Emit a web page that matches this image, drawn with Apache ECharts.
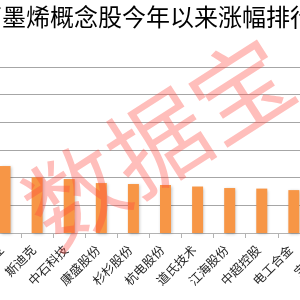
<!DOCTYPE html>
<html>
<head>
<meta charset="utf-8">
<script src="https://cdn.jsdelivr.net/npm/echarts@6/dist/echarts.min.js"></script>
<style>html,body{margin:0;padding:0;background:#fff;}#c{width:300px;height:300px;}</style>
</head>
<body>
<div id="c"></div>
<script>
var titleText = '石墨烯概念股今年以来涨幅排行';
var categories = ['厦门钨业', '斯迪克', '中石科技', '康盛股份', '杉杉股份', '杭电股份', '道氏技术', '江海股份', '中超控股', '电工合金', '宝泰隆'];
var gains = [48.4, 40.3, 39.0, 36.1, 35.4, 34.7, 33.6, 32.5, 32.1, 31.0, 30.5];
var yTicks = [0, 20, 40, 60, 80, 100, 120];
var watermark = '数据宝';

var chart = echarts.init(document.getElementById('c'), null, {renderer: 'canvas'});
chart.setOption({
  animation: false,
  backgroundColor: '#ffffff',
  grid: {left: -11, right: -42, top: 67, bottom: 67, containLabel: false, outerBoundsMode: 'none'},
  xAxis: {
    type: 'category',
    data: categories,
    axisLine: {show: true, lineStyle: {color: '#b3b3b3', width: 1}},
    axisTick: {show: true, length: 5, lineStyle: {color: '#b3b3b3'}},
    axisLabel: {interval: 0, rotate: 45, margin: 11, padding: [0, 5, 0, 0], fontSize: 12.5, color: '#262626', fontFamily: 'Noto Sans CJK SC'}
  },
  yAxis: {
    type: 'value',
    min: yTicks[0],
    max: yTicks[yTicks.length - 1],
    interval: yTicks[1] - yTicks[0],
    axisLabel: {show: false},
    axisLine: {show: false},
    axisTick: {show: false},
    splitLine: {lineStyle: {color: '#a6a6a6', width: 1}}
  },
  series: [{
    type: 'bar',
    data: gains,
    barWidth: 11,
    itemStyle: {
      color: '#f79646',
      shadowColor: 'rgba(0,0,0,0.25)',
      shadowBlur: 3,
      shadowOffsetX: 1,
      shadowOffsetY: 1
    }
  }],
  graphic: [{
    type: 'text',
    x: -22,
    y: 5,
    z: 50,
    style: {
      text: titleText,
      fontSize: 24,
      fontFamily: 'Noto Sans CJK SC',
      fill: '#000000',
      textAlign: 'left',
      textVerticalAlign: 'top'
    }
  }, {
    type: 'text',
    x: 158,
    y: 142,
    rotation: 0.57,
    z: 100,
    style: {
      text: watermark,
      fontSize: 98,
      fontFamily: 'Noto Sans CJK SC',
      fill: 'rgba(255,70,60,0.35)',
      textAlign: 'center',
      textVerticalAlign: 'middle'
    }
  }]
});
</script>
</body>
</html>
